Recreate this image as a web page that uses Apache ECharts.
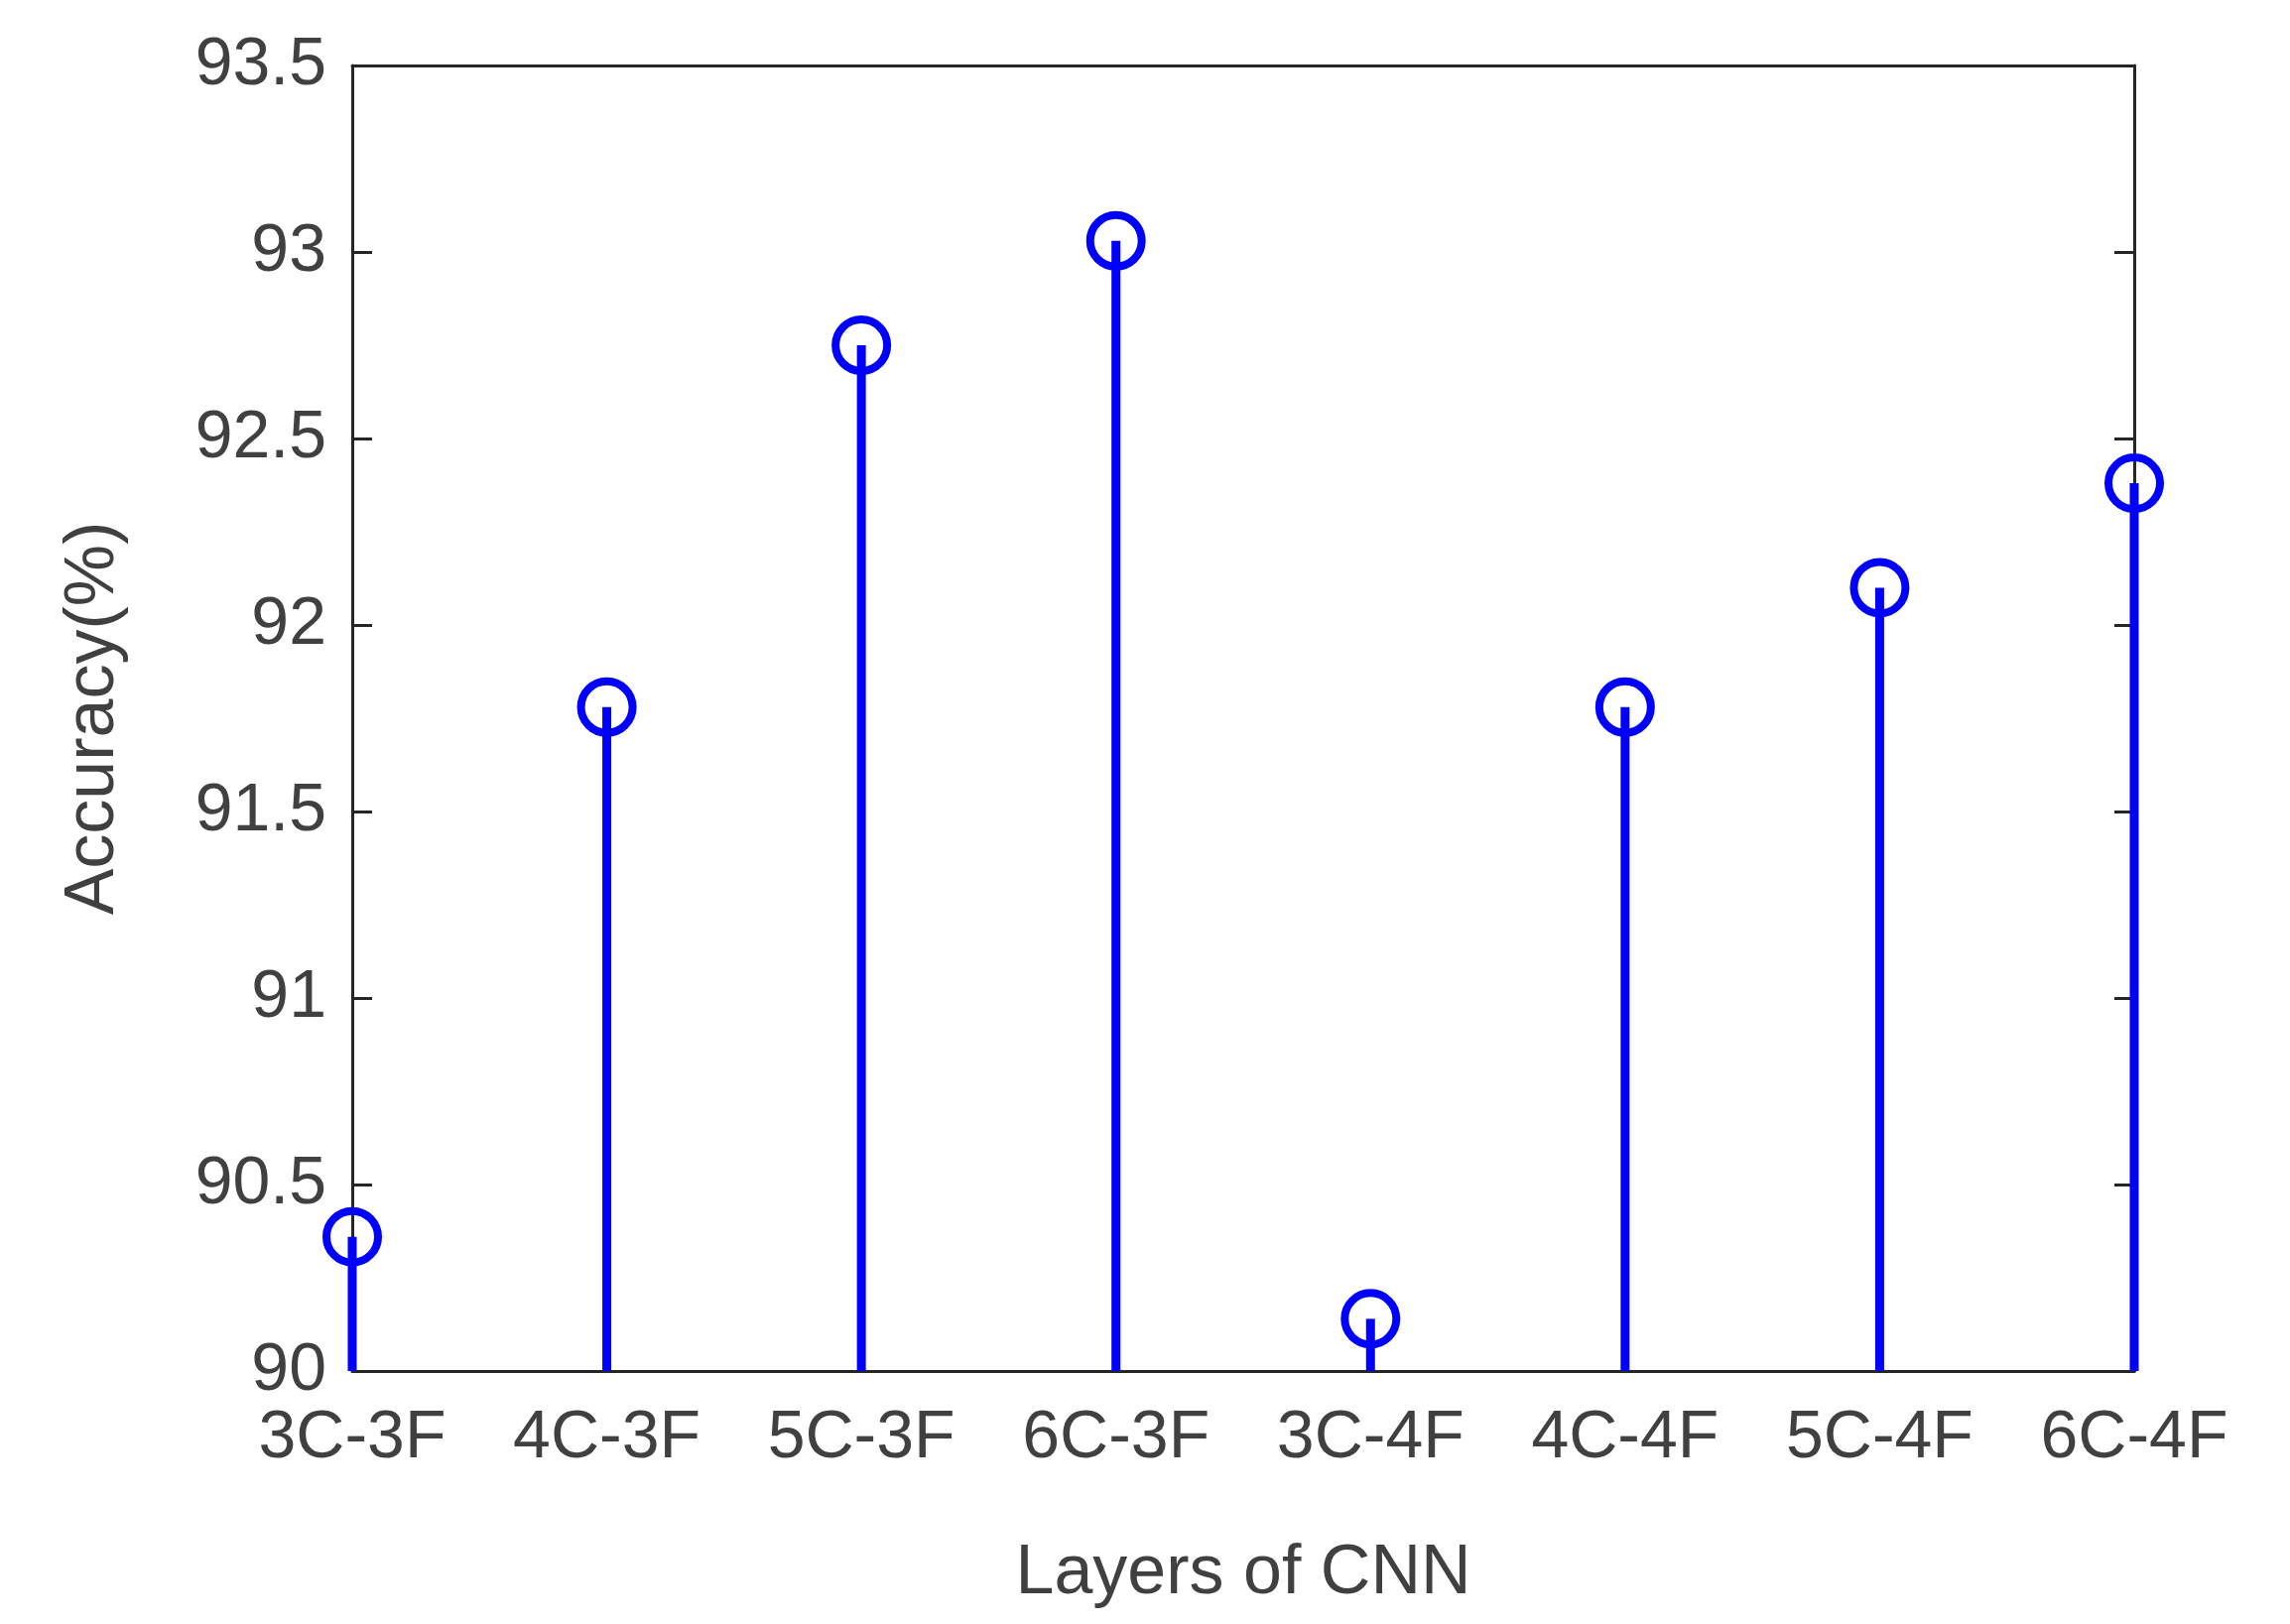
<!DOCTYPE html><html><head><meta charset="utf-8">
<script src="https://cdn.jsdelivr.net/npm/echarts@6/dist/echarts.min.js"></script>
<style>html,body{margin:0;background:#fff}#c{width:2308px;height:1637px}</style></head><body><div id="c"></div>
<script>
const categories=['3C-3F','4C-3F','5C-3F','6C-3F','3C-4F','4C-4F','5C-4F','6C-4F'];
const accuracy=[90.36,91.78,92.75,93.03,90.14,91.78,92.10,92.38];
const yTicks={min:90,max:93.5,interval:0.5};
const font='"Liberation Sans", Arial, sans-serif';
const blue='#0000ff';
const chart=echarts.init(document.getElementById('c'));
const axisLine={show:true,lineStyle:{color:'#262626',width:3}};
chart.setOption({
 animation:false,
 grid:{left:355,right:157,top:66,bottom:255},
 xAxis:[{type:'category',data:categories,boundaryGap:false,axisLine,
   axisTick:{show:false},
   axisLabel:{fontSize:68,color:'#404040',fontFamily:font,margin:34},
   name:'Layers of CNN',nameLocation:'middle',nameGap:170,nameTextStyle:{fontSize:70,color:'#404040',fontFamily:font}},
  {type:'category',data:categories,boundaryGap:false,position:'top',axisLine,
   axisTick:{show:false},axisLabel:{show:false}}],
 yAxis:[{type:'value',min:yTicks.min,max:yTicks.max,interval:yTicks.interval,axisLine,splitLine:{show:false},
   axisTick:{show:true,inside:true,length:20,lineStyle:{width:3,color:'#262626'}},
   axisLabel:{fontSize:68,color:'#404040',fontFamily:font,margin:26},
   name:'Accuracy(%)',nameLocation:'middle',nameGap:225,nameTextStyle:{fontSize:70,color:'#404040',fontFamily:font}},
  {type:'value',min:yTicks.min,max:yTicks.max,interval:yTicks.interval,position:'right',axisLine,splitLine:{show:false},
   axisTick:{show:true,inside:true,length:20,lineStyle:{width:3,color:'#262626'}},axisLabel:{show:false}}],
 series:[
  {type:'bar',data:accuracy,barWidth:9,itemStyle:{color:blue}},
  {type:'scatter',data:accuracy,symbol:'circle',symbolSize:52,
   itemStyle:{color:'rgba(0,0,0,0)',borderColor:blue,borderWidth:8,opacity:1},z:5}
 ]
});
</script></body></html>
